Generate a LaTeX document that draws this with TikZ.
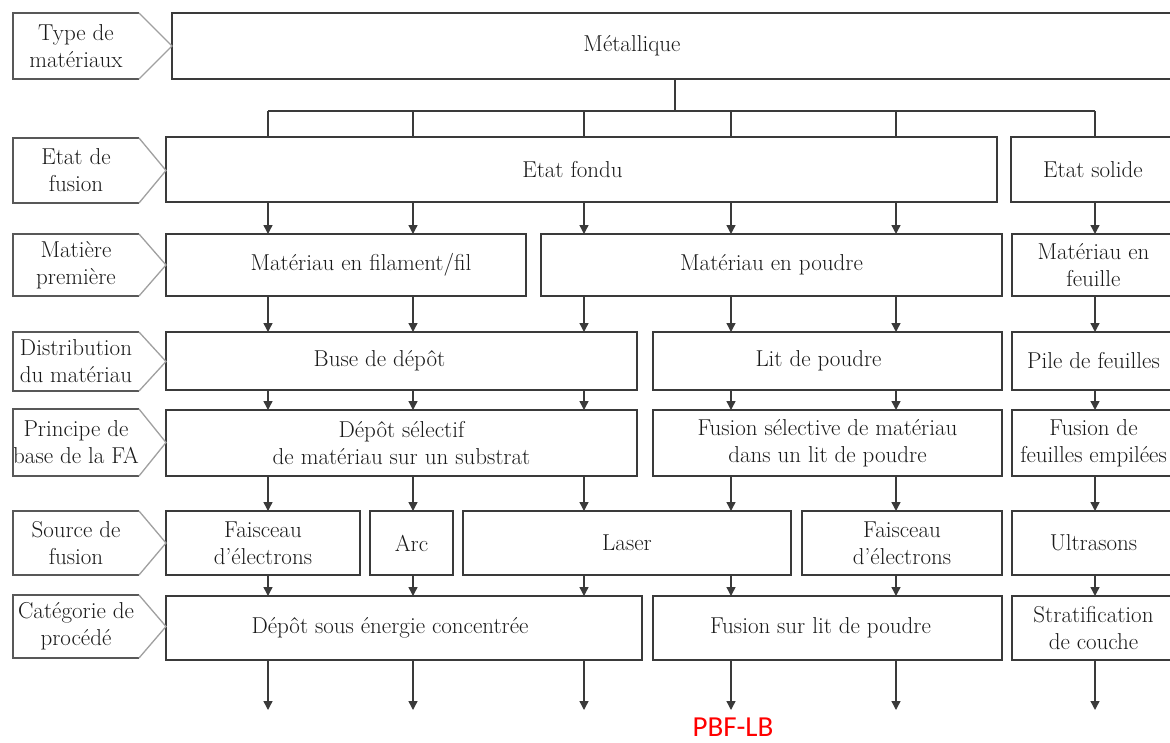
\documentclass[tikz,border=0pt]{standalone}
\usepackage{fontspec}
\newfontfamily\calib{Carlito}
\usetikzlibrary{arrows.meta}
\definecolor{lncol}{HTML}{3A3A3A}
\definecolor{lgcol}{HTML}{A0A0A0}
\definecolor{txcol}{HTML}{1A1A1A}
\definecolor{pbfcol}{HTML}{FF0000}
\newcommand\bx[6]{\node[box, minimum width={#4-#2}, minimum height={#5-#3}] (#1) at ({(#2+#4)/2},{(#3+#5)/2}) {#6};}
\newcommand\lb[5]{%
  \node[lab, minimum width=126, minimum height={#3-#2}] (#1) at (76,{(#2+#3)/2}) {#5};
  \draw[labd] (#1.north east) -- (#1.north west) -- (#1.south west) -- (#1.south east);
  \draw[labl] (#1.north east) -- (#1.east -| #4.west) -- (#1.south east);}
\newcommand\ar[3]{\draw[arr] (#1.south -| #3) -- (#2.north -| #3);}
\begin{document}
\begin{tikzpicture}[x=1pt,y=-1pt,
  box/.style={draw=lncol, line width=1.4pt, rectangle, inner sep=0pt, outer sep=0pt, align=center, text=txcol, font=\fontsize{23}{27}\selectfont},
  lab/.style={inner sep=0pt, outer sep=0pt, align=center, text=txcol, font=\fontsize{23}{27}\selectfont},
  labd/.style={draw=lncol!85, line width=1.3pt, line join=miter},
  labl/.style={draw=lgcol, line width=1.3pt},
  conn/.style={draw=lncol, line width=1.4pt},
  arr/.style={draw=lncol, line width=1.4pt, -{Triangle[length=9pt,width=9pt]}}]
\useasboundingbox (0,0) rectangle (1170,742);
\clip (0,0) rectangle (1170,742);
\fill[white] (0,0) rectangle (1170,742);
% columns
\coordinate (c1) at (268,0);
\coordinate (c2) at (413,0);
\coordinate (c3) at (584,0);
\coordinate (c4) at (731,0);
\coordinate (c5) at (896,0);
\coordinate (c6) at (1095,0);
\coordinate (cm) at (675,0);
\coordinate (bus) at (0,111);
\coordinate (bot) at (0,710);
% boxes
\bx{metal}{172}{13}{1180}{79}{Métallique\hbox to 88pt{}}
\bx{fondu}{166}{137}{997}{202}{Etat fondu\hbox to 18pt{}}
\bx{solide}{1011}{137}{1175}{202}{Etat solide}
\bx{fil}{166}{234}{526}{296}{\hbox to 30pt{}Matériau en filament/fil}
\bx{poudre}{541}{234}{1002}{296}{Matériau en poudre}
\bx{feuille}{1012}{234}{1175}{296}{Matériau en\\feuille}
\bx{buse}{166}{332}{637}{390}{Buse de dépôt\hbox to 44pt{}}
\bx{lit}{653}{332}{1002}{390}{Lit de poudre\hbox to 18pt{}}
\bx{pile}{1012}{332}{1175}{390}{Pile de feuilles}
\bx{depot}{166}{410}{637}{476}{Dépôt sélectif\\de matériau sur un substrat}
\bx{fsel}{653}{410}{1002}{476}{Fusion sélective de matériau\\dans un lit de poudre}
\bx{empil}{1012}{410}{1175}{476}{Fusion de\\feuilles empilées}
\bx{eb1}{166}{511}{360}{575}{Faisceau\\d’électrons}
\bx{arc}{370}{511}{453}{575}{Arc}
\bx{laser}{463}{511}{791}{575}{Laser}
\bx{eb2}{802}{511}{1002}{575}{Faisceau\\d’électrons}
\bx{ultra}{1012}{511}{1175}{575}{Ultrasons}
\bx{ded}{166}{596}{642}{660}{Dépôt sous énergie concentrée\hbox to 28pt{}}
\bx{pbf}{653}{596}{1002}{660}{Fusion sur lit de poudre\hbox to 14pt{}}
\bx{strat}{1012}{596}{1175}{660}{Stratification\\de couche}
% left labels
\lb{l0}{13}{79}{metal}{Type de\\matériaux}
\lb{l1}{138}{203}{fondu}{Etat de\\fusion}
\lb{l2}{234}{296}{fil}{Matière\\première}
\lb{l3}{332}{391}{buse}{Distribution\\du matériau}
\lb{l4}{409}{476}{depot}{Principe de\\base de la FA}
\lb{l5}{511}{575}{eb1}{Source de\\fusion}
\lb{l6}{595}{658}{ded}{Catégorie de\\procédé}
% top tree
\draw[conn, line width=2pt] (metal.south -| cm) -- (cm |- bus);
\draw[conn] (c1 |- bus) -- (c6 |- bus);
\foreach \c in {c1,c2,c3,c4,c5} \draw[conn] (\c |- bus) -- (fondu.north -| \c);
\draw[conn] (c6 |- bus) -- (solide.north -| c6);
% arrows row1 -> row2
\ar{fondu}{fil}{c1} \ar{fondu}{fil}{c2}
\ar{fondu}{poudre}{c3} \ar{fondu}{poudre}{c4} \ar{fondu}{poudre}{c5}
\ar{solide}{feuille}{c6}
% row2 -> row3
\ar{fil}{buse}{c1} \ar{fil}{buse}{c2} \ar{poudre}{buse}{c3}
\ar{poudre}{lit}{c4} \ar{poudre}{lit}{c5} \ar{feuille}{pile}{c6}
% row3 -> row4
\ar{buse}{depot}{c1} \ar{buse}{depot}{c2} \ar{buse}{depot}{c3}
\ar{lit}{fsel}{c4} \ar{lit}{fsel}{c5} \ar{pile}{empil}{c6}
% row4 -> row5
\ar{depot}{eb1}{c1} \ar{depot}{arc}{c2} \ar{depot}{laser}{c3}
\ar{fsel}{laser}{c4} \ar{fsel}{eb2}{c5} \ar{empil}{ultra}{c6}
% row5 -> row6
\ar{eb1}{ded}{c1} \ar{arc}{ded}{c2} \ar{laser}{ded}{c3}
\ar{laser}{pbf}{c4} \ar{eb2}{pbf}{c5} \ar{ultra}{strat}{c6}
% row6 -> out
\foreach \c in {c1,c2,c3} \draw[arr] (ded.south -| \c) -- (\c |- bot);
\foreach \c in {c4,c5} \draw[arr] (pbf.south -| \c) -- (\c |- bot);
\draw[arr] (strat.south -| c6) -- (c6 |- bot);
% red label
\node[text=pbfcol, font=\calib\fontsize{29}{29}\selectfont, inner sep=0pt] (pbflb) at (733,727) {PBF-LB};
\end{tikzpicture}
\end{document}
